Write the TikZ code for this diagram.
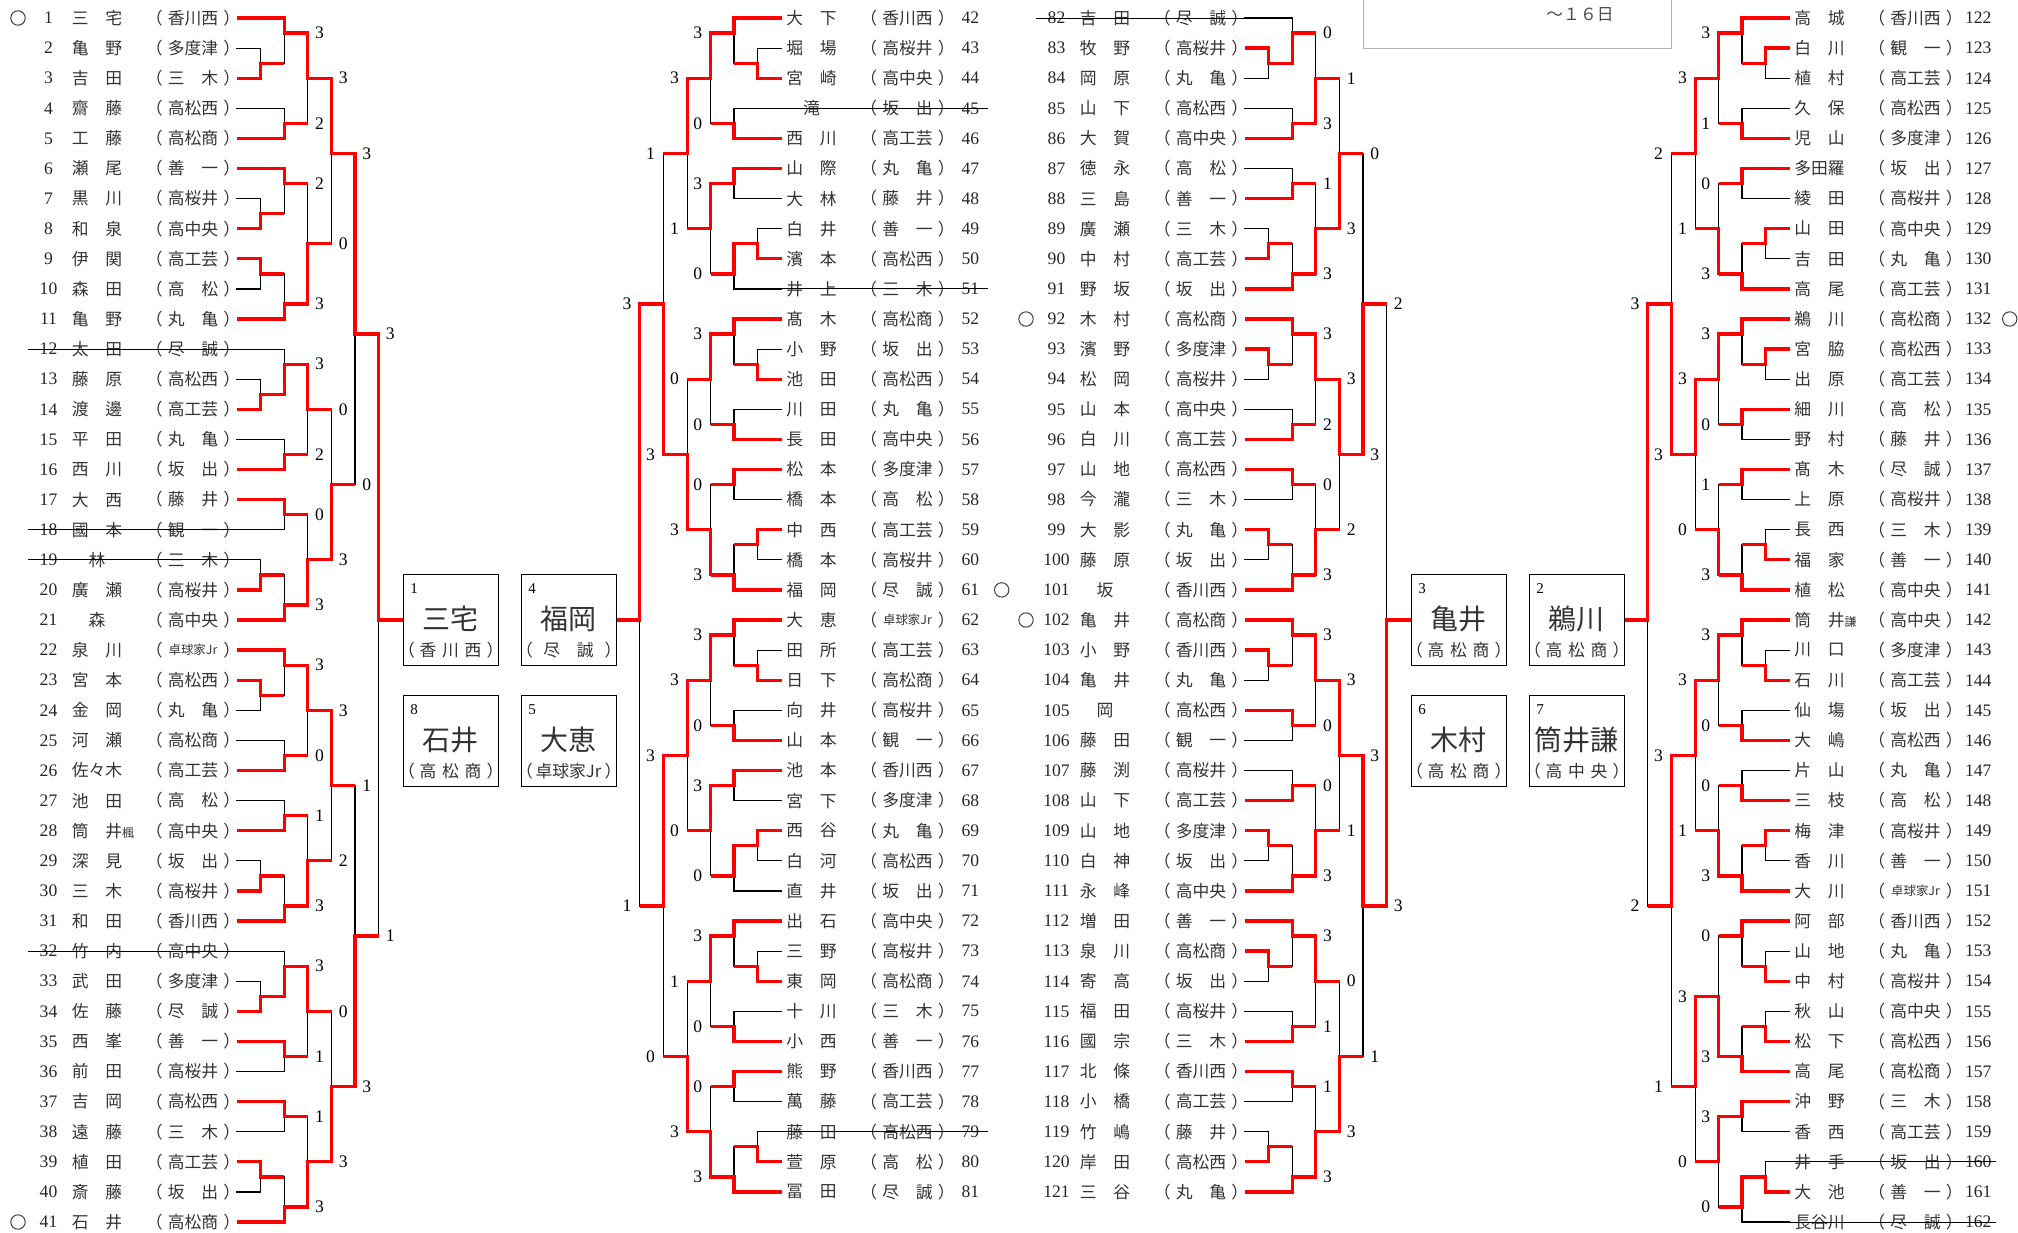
\documentclass[tikz,border=0pt]{standalone}
\usepackage{fontspec}
\setmainfont{Liberation Serif}
\newfontfamily\jp{Noto Sans CJK JP}
\newcommand\sm{\fontsize{6}{6}\selectfont}
\newcommand\jr{{\fontsize{6.2}{6}\selectfont 卓球家Jr}}
\newcommand\three[3]{\makebox[30.9pt][s]{#1\hfill #2\hfill #3}}

% matches: level/top row/bottom row/out row/winner (1 top, 2 bottom)/score top/score bottom
\def\MatchA{1/2/3/2.5/2/0/0,2/1/2.5/1.5/1/0/0,2/4/5/4.5/2/0/0,3/1.5/4.5/3/1/3/2,
1/7/8/7.5/2/0/0,2/6/7.5/6.5/1/0/0,1/9/10/9.5/1/0/0,2/9.5/11/10.5/2/0/0,3/6.5/10.5/8.5/2/2/3,
4/3/8.5/5.5/1/3/0,1/13/14/13.5/2/0/0,2/12/13.5/12.5/2/0/0,2/15/16/15.5/2/0/0,3/12.5/15.5/14/1/3/2,
2/17/18/17.5/1/0/0,1/19/20/19.5/2/0/0,2/19.5/21/20.5/2/0/0,3/17.5/20.5/19/2/0/3,4/14/19/16.5/2/0/3,
5/5.5/16.5/11.5/1/3/0,1/23/24/23.5/1/0/0,2/22/23.5/22.5/1/0/0,2/25/26/25.5/2/0/0,3/22.5/25.5/24/1/3/0,
2/27/28/27.5/2/0/0,1/29/30/29.5/2/0/0,2/29.5/31/30.5/2/0/0,3/27.5/30.5/29/2/1/3,4/24/29/26.5/1/3/2,
1/33/34/33.5/2/0/0,2/32/33.5/32.5/2/0/0,2/35/36/35.5/1/0/0,3/32.5/35.5/34/1/3/1,2/37/38/37.5/1/0/0,
1/39/40/39.5/1/0/0,2/39.5/41/40.5/2/0/0,3/37.5/40.5/39/2/1/3,4/34/39/36.5/2/0/3,5/26.5/36.5/31.5/2/1/3,
6/11.5/31.5/21/1/3/1}
\def\MatchB{1/2/3/2.5/2/0/0,2/1/2.5/1.5/1/0/0,2/4/5/4.5/2/0/0,3/1.5/4.5/3/1/3/0,
2/6/7/6.5/1/0/0,1/8/9/8.5/2/0/0,2/8.5/10/9.5/1/0/0,3/6.5/9.5/8/1/3/0,4/3/8/5.5/1/3/1,
1/12/13/12.5/2/0/0,2/11/12.5/11.5/1/0/0,2/14/15/14.5/2/0/0,3/11.5/14.5/13/1/3/0,
2/16/17/16.5/1/0/0,1/18/19/18.5/1/0/0,2/18.5/20/19.5/2/0/0,3/16.5/19.5/18/2/0/3,4/13/18/15.5/2/0/3,
5/5.5/15.5/10.5/2/1/3,1/22/23/22.5/2/0/0,2/21/22.5/21.5/1/0/0,2/24/25/24.5/2/0/0,3/21.5/24.5/23/1/3/0,
2/26/27/26.5/1/0/0,1/28/29/28.5/1/0/0,2/28.5/30/29.5/1/0/0,3/26.5/29.5/28/1/3/0,4/23/28/25.5/1/3/0,
1/32/33/32.5/2/0/0,2/31/32.5/31.5/1/0/0,2/34/35/34.5/2/0/0,3/31.5/34.5/33/1/3/0,
2/36/37/36.5/1/0/0,1/38/39/38.5/2/0/0,2/38.5/40/39.5/2/0/0,3/36.5/39.5/38/2/0/3,4/33/38/35.5/2/1/3,
5/25.5/35.5/30.5/1/3/0,6/10.5/30.5/21/1/3/1}
\def\MatchC{1/2/3/2.5/1/0/0,2/1/2.5/1.5/2/0/0,2/4/5/4.5/2/0/0,3/1.5/4.5/3/2/0/3,
2/6/7/6.5/2/0/0,1/8/9/8.5/2/0/0,2/8.5/10/9.5/2/0/0,3/6.5/9.5/8/2/1/3,4/3/8/5.5/2/1/3,
1/12/13/12.5/1/0/0,2/11/12.5/11.5/1/0/0,2/14/15/14.5/2/0/0,3/11.5/14.5/13/1/3/2,
2/16/17/16.5/1/0/0,1/18/19/18.5/1/0/0,2/18.5/20/19.5/2/0/0,3/16.5/19.5/18/2/0/3,4/13/18/15.5/1/3/2,
5/5.5/15.5/10.5/2/0/3,1/22/23/22.5/1/0/0,2/21/22.5/21.5/1/0/0,2/24/25/24.5/1/0/0,3/21.5/24.5/23/1/3/0,
2/26/27/26.5/2/0/0,1/28/29/28.5/1/0/0,2/28.5/30/29.5/2/0/0,3/26.5/29.5/28/2/0/3,4/23/28/25.5/1/3/1,
1/32/33/32.5/1/0/0,2/31/32.5/31.5/1/0/0,2/34/35/34.5/2/0/0,3/31.5/34.5/33/1/3/1,
2/36/37/36.5/1/0/0,1/38/39/38.5/2/0/0,2/38.5/40/39.5/2/0/0,3/36.5/39.5/38/2/1/3,4/33/38/35.5/2/0/3,
5/25.5/35.5/30.5/1/3/1,6/10.5/30.5/21/2/2/3}
\def\MatchD{1/2/3/2.5/1/0/0,2/1/2.5/1.5/1/0/0,2/4/5/4.5/2/0/0,3/1.5/4.5/3/1/3/1,
2/6/7/6.5/1/0/0,1/8/9/8.5/1/0/0,2/8.5/10/9.5/2/0/0,3/6.5/9.5/8/2/0/3,4/3/8/5.5/1/3/1,
1/12/13/12.5/1/0/0,2/11/12.5/11.5/1/0/0,2/14/15/14.5/1/0/0,3/11.5/14.5/13/1/3/0,
2/16/17/16.5/1/0/0,1/18/19/18.5/2/0/0,2/18.5/20/19.5/2/0/0,3/16.5/19.5/18/2/1/3,4/13/18/15.5/1/3/0,
5/5.5/15.5/10.5/2/2/3,1/22/23/22.5/2/0/0,2/21/22.5/21.5/1/0/0,2/24/25/24.5/2/0/0,3/21.5/24.5/23/1/3/0,
2/26/27/26.5/2/0/0,1/28/29/28.5/1/0/0,2/28.5/30/29.5/2/0/0,3/26.5/29.5/28/2/0/3,4/23/28/25.5/1/3/1,
1/32/33/32.5/2/0/0,2/31/32.5/31.5/1/0/0,1/34/35/34.5/2/0/0,2/34.5/36/35.5/2/0/0,3/31.5/35.5/33.5/2/0/3,
2/37/38/37.5/1/0/0,1/39/40/39.5/2/0/0,2/39.5/41/40.5/1/0/0,3/37.5/40.5/39/1/3/0,4/33.5/39/36.5/1/3/0,
5/25.5/36.5/30.5/1/3/1,6/10.5/30.5/21/1/3/2}

% players: number/name/club
\def\NamesA{1/三　宅/香川西,2/亀　野/多度津,3/吉　田/三　木,4/齋　藤/高松西,5/工　藤/高松商,
6/瀬　尾/善　一,7/黒　川/高桜井,8/和　泉/高中央,9/伊　関/高工芸,10/森　田/高　松,11/亀　野/丸　亀,
12/太　田/尽　誠,13/藤　原/高松西,14/渡　邊/高工芸,15/平　田/丸　亀,16/西　川/坂　出,17/大　西/藤　井,
18/國　本/観　一,19/林/三　木,20/廣　瀬/高桜井,21/森/高中央,22/泉　川/\jr,23/宮　本/高松西,
24/金　岡/丸　亀,25/河　瀬/高松商,26/佐々木/高工芸,27/池　田/高　松,28/筒　井\rlap{\sm 楓}/高中央,
29/深　見/坂　出,30/三　木/高桜井,31/和　田/香川西,32/竹　内/高中央,33/武　田/多度津,34/佐　藤/尽　誠,
35/西　峯/善　一,36/前　田/高桜井,37/吉　岡/高松西,38/遠　藤/三　木,39/植　田/高工芸,40/斎　藤/坂　出,
41/石　井/高松商}
\def\NamesB{42/大　下/香川西,43/堀　場/高桜井,44/宮　崎/高中央,45/滝/坂　出,46/西　川/高工芸,
47/山　際/丸　亀,48/大　林/藤　井,49/白　井/善　一,50/濱　本/高松西,51/井　上/三　木,52/髙　木/高松商,
53/小　野/坂　出,54/池　田/高松西,55/川　田/丸　亀,56/長　田/高中央,57/松　本/多度津,58/橋　本/高　松,
59/中　西/高工芸,60/橋　本/高桜井,61/福　岡/尽　誠,62/大　恵/\jr,63/田　所/高工芸,64/日　下/高松商,
65/向　井/高桜井,66/山　本/観　一,67/池　本/香川西,68/宮　下/多度津,69/西　谷/丸　亀,70/白　河/高松西,
71/直　井/坂　出,72/出　石/高中央,73/三　野/高桜井,74/東　岡/高松商,75/十　川/三　木,76/小　西/善　一,
77/熊　野/香川西,78/萬　藤/高工芸,79/藤　田/高松西,80/萱　原/高　松,81/冨　田/尽　誠}
\def\NamesC{82/吉　田/尽　誠,83/牧　野/高桜井,84/岡　原/丸　亀,85/山　下/高松西,86/大　賀/高中央,
87/徳　永/高　松,88/三　島/善　一,89/廣　瀬/三　木,90/中　村/高工芸,91/野　坂/坂　出,92/木　村/高松商,
93/濱　野/多度津,94/松　岡/高桜井,95/山　本/高中央,96/白　川/高工芸,97/山　地/高松西,98/今　瀧/三　木,
99/大　影/丸　亀,100/藤　原/坂　出,101/坂/香川西,102/亀　井/高松商,103/小　野/香川西,104/亀　井/丸　亀,
105/岡/高松西,106/藤　田/観　一,107/藤　渕/高桜井,108/山　下/高工芸,109/山　地/多度津,110/白　神/坂　出,
111/永　峰/高中央,112/増　田/善　一,113/泉　川/高松商,114/寄　高/坂　出,115/福　田/高桜井,
116/國　宗/三　木,117/北　條/香川西,118/小　橋/高工芸,119/竹　嶋/藤　井,120/岸　田/高松西,121/三　谷/丸　亀}
\def\NamesD{122/高　城/香川西,123/白　川/観　一,124/植　村/高工芸,125/久　保/高松西,126/児　山/多度津,
127/多田羅/坂　出,128/綾　田/高桜井,129/山　田/高中央,130/吉　田/丸　亀,131/高　尾/高工芸,
132/鵜　川/高松商,133/宮　脇/高松西,134/出　原/高工芸,135/細　川/高　松,136/野　村/藤　井,
137/髙　木/尽　誠,138/上　原/高桜井,139/長　西/三　木,140/福　家/善　一,141/植　松/高中央,
142/筒　井\rlap{\sm 謙}/高中央,143/川　口/多度津,144/石　川/高工芸,145/仙　塲/坂　出,146/大　嶋/高松西,
147/片　山/丸　亀,148/三　枝/高　松,149/梅　津/高桜井,150/香　川/善　一,151/大　川/\jr,152/阿　部/香川西,
153/山　地/丸　亀,154/中　村/高桜井,155/秋　山/高中央,156/松　下/高松西,157/高　尾/高松商,
158/沖　野/三　木,159/香　西/高工芸,160/井　手/坂　出,161/大　池/善　一,162/長谷川/尽　誠}

\newcommand\bracket[1]{%
  % losing halves
  \foreach \lv/\yt/\yb/\yo/\w/\sT/\sB in #1 {
    \pgfmathsetmacro\xm{\Lev[\lv]}
    \pgfmathsetmacro\xz{\Lev[0]}
    \pgfmathsetmacro\yT{18+(\yt-1)*30.1}
    \pgfmathsetmacro\yB{18+(\yb-1)*30.1}
    \pgfmathsetmacro\yO{18+(\yo-1)*30.1}
    \ifnum\w=1 \draw[lose] (\xm,\yO) -- (\xm,\yB);
    \else \draw[lose] (\xm,\yT) -- (\xm,\yO); \fi
    \ifnum\lv<3
      \pgfmathtruncatemacro\isT{\yt==int(\yt)}
      \pgfmathtruncatemacro\isB{\yb==int(\yb)}
      \ifnum\w=1 \ifnum\isB=1 \draw[lose] (\xz,\yB) -- (\xm,\yB); \fi
      \else \ifnum\isT=1 \draw[lose] (\xz,\yT) -- (\xm,\yT); \fi \fi
    \fi
  }
  % winners and scores
  \foreach \lv/\yt/\yb/\yo/\w/\sT/\sB in #1 {
    \pgfmathsetmacro\xm{\Lev[\lv]}
    \pgfmathsetmacro\xp{\Lev[\lv+1]}
    \pgfmathsetmacro\xz{\Lev[0]}
    \pgfmathsetmacro\yT{18+(\yt-1)*30.1}
    \pgfmathsetmacro\yB{18+(\yb-1)*30.1}
    \pgfmathsetmacro\yO{18+(\yo-1)*30.1}
    \ifnum\w=1 \let\yW\yT \else \let\yW\yB \fi
    \draw[winpath] (\xm,\yW) -- (\xm,\yO) -- (\xp,\yO);
    \ifnum\lv<3
      \pgfmathtruncatemacro\isT{\yt==int(\yt)}
      \pgfmathtruncatemacro\isB{\yb==int(\yb)}
      \ifnum\w=1 \ifnum\isT=1 \draw[win] (\xz,\yT) -- (\xm,\yT); \fi
      \else \ifnum\isB=1 \draw[win] (\xz,\yB) -- (\xm,\yB); \fi \fi
    \else
      \node[score, anchor=\Sa] at (\xm+\So,\yT) {\sT};
      \node[score, anchor=\Sa] at (\xm+\So,\yB) {\sB};
    \fi
  }
}

\newcommand\entries[2]{%
  \foreach \pn/\nm/\af in #2 {
    \pgfmathsetmacro\yy{18+(\pn-#1-1)*30.1}
    \node[num] (n\pn) at (\Xnum,\yy) {\pn};
    \node[nm] (s\pn) at (\Xname,\yy) {\nm};
    \node[nm] (l\pn) at (\Xlp,\yy) {（};
    \node[nm] (a\pn) at (\Xaff,\yy) {\af};
    \node[nm] (r\pn) at (\Xrp,\yy) {）};
  }
}

\newcommand\winbox[6]{% x, y, seed, name, club, node name
  \node[winbox, anchor=north west] (#6) at (#1,#2) {};
  \node[seed] (#6s) at (#1+11,#2+15) {#3};
  \node[bigname] (#6n) at (#1+47.5,#2+45) {#4};
  \node[nm] (#6l) at (#1+3.5,#2+76) {（};
  \node[nm] (#6c) at (#1+47.5,#2+76) {#5};
  \node[nm] (#6r) at (#1+92,#2+76) {）};
}

\tikzset{
  win/.style={red, line width=1.65pt},
  winpath/.style={win, shorten <=-0.82pt},
  lose/.style={black, line width=0.6pt, line cap=rect},
  strike/.style={black, line width=0.5pt},
  nm/.style={font=\jp\fontsize{8.4}{9}\selectfont, inner sep=0pt, text=black!80},
  num/.style={font=\fontsize{8.8}{9}\selectfont, inner sep=0pt, text=black!85},
  score/.style={font=\fontsize{8.8}{9}\selectfont, inner sep=0pt},
  seedmark/.style={draw=black!75, line width=0.5pt},
  winbox/.style={draw, line width=0.6pt, minimum width=47.5pt, minimum height=45.5pt, inner sep=0pt},
  bigname/.style={font=\jp\fontsize{14}{14}\selectfont, inner sep=0pt, text=black!80},
  seed/.style={font=\fontsize{7.5}{8}\selectfont, inner sep=0pt},
}

\begin{document}
\begin{tikzpicture}[x=0.5pt, y=-0.5pt]
  \useasboundingbox (0,0) rectangle (2018,1232);

  % left half of each side: names, then bracket to the right
  \def\Lev{{237,260.7,284.3,307.7,331.5,355,378.5,403}}
  \def\Sa{west}\def\So{7}
  \def\Xnum{48.5}\def\Xname{97}\def\Xlp{154.3}\def\Xaff{193}\def\Xrp{231.7}
  \entries{0}{\NamesA}
  \bracket{\MatchA}
  \foreach \rw in {12,18,19,32} \draw[strike] (28,{18+(\rw-1)*30.1}) -- (237,{18+(\rw-1)*30.1});
  \foreach \rw in {1,41} \draw[seedmark] (18,{18+(\rw-1)*30.1}) circle [radius=3.6pt];
  \begin{scope}[shift={(1008,0)}]
    \entries{81}{\NamesC}
    \bracket{\MatchC}
    \draw[strike] (28,18) -- (237,18);
    \foreach \rw in {11,21} \draw[seedmark] (18,{18+(\rw-1)*30.1}) circle [radius=3.6pt];
  \end{scope}

  % right half of each side: bracket, then names
  \def\Lev{{781.7,757.7,734,710.5,687.2,663.3,639.7,615.7}}
  \def\Sa{east}\def\So{-8}
  \def\Xnum{970.3}\def\Xname{811.5}\def\Xlp{868.8}\def\Xaff{907.5}\def\Xrp{946.2}
  \entries{41}{\NamesB}
  \bracket{\MatchB}
  \foreach \rw in {4,10,38} \draw[strike] (781.7,{18+(\rw-1)*30.1}) -- (988.3,{18+(\rw-1)*30.1});
  \draw[seedmark] (1001.7,{18+19*30.1}) circle [radius=3.6pt];
  \begin{scope}[shift={(1008,0)}]
    \entries{121}{\NamesD}
    \bracket{\MatchD}
    \foreach \rw in {39,41} \draw[strike] (781.7,{18+(\rw-1)*30.1}) -- (988.3,{18+(\rw-1)*30.1});
    \draw[seedmark] (1001.7,{18+10*30.1}) circle [radius=3.6pt];
  \end{scope}

  % winners
  \winbox{403}{574}{1}{三宅}{\three{香}{川}{西}}{w1}
  \winbox{521}{574}{4}{福岡}{尽　誠}{w4}
  \winbox{403}{695}{8}{石井}{\three{高}{松}{商}}{w8}
  \winbox{521}{695}{5}{大恵}{卓球家Jr}{w5}
  \winbox{1411}{574}{3}{亀井}{\three{高}{松}{商}}{w3}
  \winbox{1529}{574}{2}{鵜川}{\three{高}{松}{商}}{w2}
  \winbox{1411}{695}{6}{木村}{\three{高}{松}{商}}{w6}
  \winbox{1529}{695}{7}{筒井謙}{\three{高}{中}{央}}{w7}

  % date
  \draw[black!30, line width=0.5pt] (1363,0) -- (1363,48) -- (1671,48) -- (1671,0);
  \node[nm, anchor=east, text=black!70] (date) at (1614,15) {～１６日};
\end{tikzpicture}
\end{document}
